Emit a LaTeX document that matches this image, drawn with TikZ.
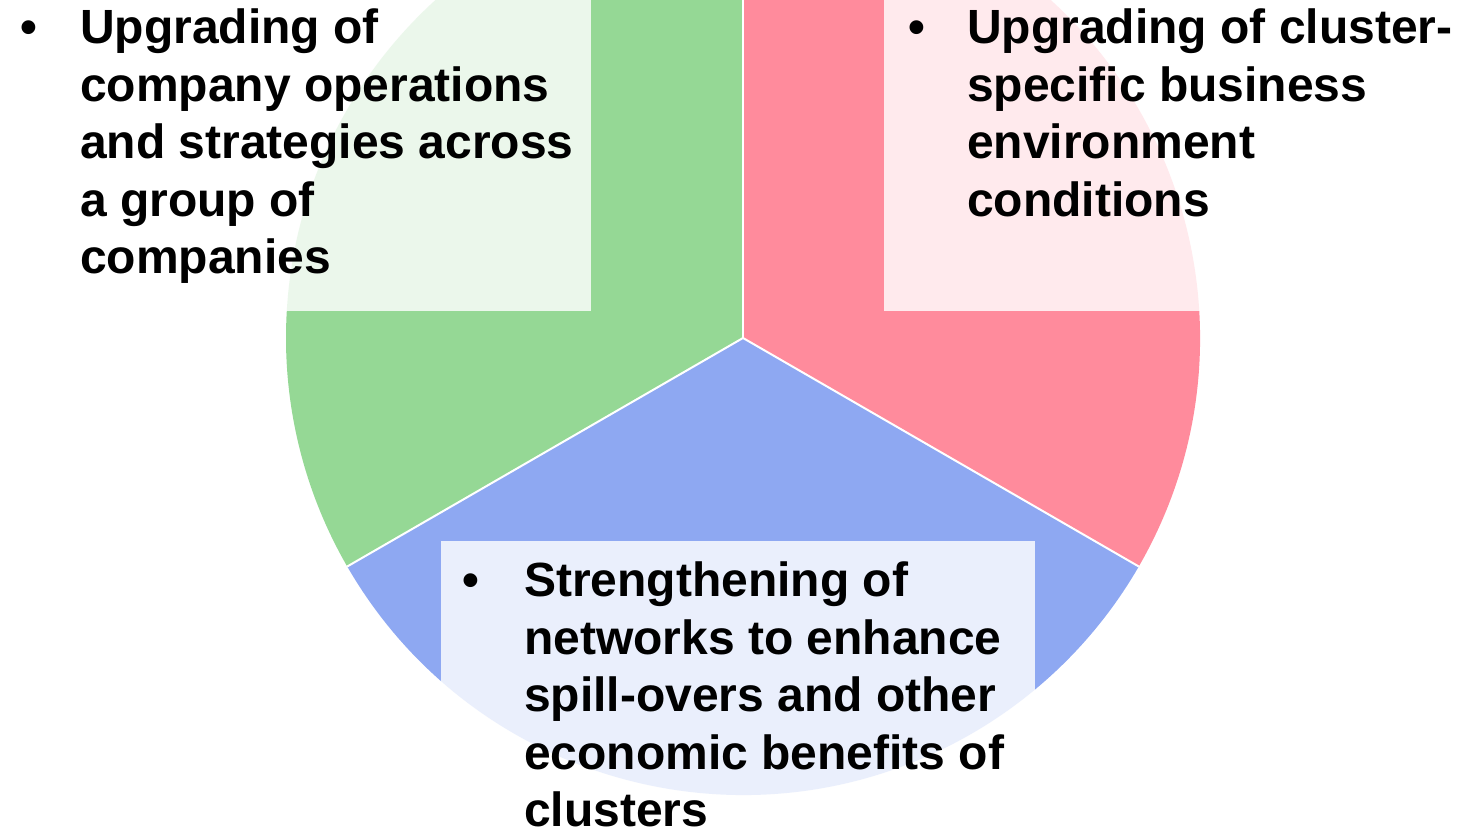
\documentclass[tikz,border=0pt]{standalone}
\usepackage{fontspec}
\setmainfont{Liberation Sans}
\definecolor{pgreen}{RGB}{149,216,149}
\definecolor{ppink}{RGB}{255,139,156}
\definecolor{pblue}{RGB}{142,168,242}
\tikzset{
  sector/.style={draw=none},
  sepline/.style={draw=white, line width=2pt},
  veil/.style={fill=white, fill opacity=0.82, draw=none},
  bul/.style={anchor=base west, inner sep=0pt, font=\fontsize{48}{57.5}\selectfont\bfseries},
  txt/.style={anchor=base west, inner sep=0pt, font=\fontsize{48}{57.5}\selectfont\bfseries}
}
\begin{document}
\begin{tikzpicture}[x=1pt,y=1pt]
\useasboundingbox (0,0) rectangle (1460,830);
\coordinate (c) at (743,492);
% pie sectors
\fill[pgreen, sector] (c) -- ++(90:457) arc[start angle=90, end angle=210, radius=457] -- cycle;
\fill[ppink, sector] (c) -- ++(-30:457) arc[start angle=-30, end angle=90, radius=457] -- cycle;
\fill[pblue, sector] (c) -- ++(210:457) arc[start angle=210, end angle=330, radius=457] -- cycle;
\draw[sepline] (c) -- ++(90:457);
\draw[sepline] (c) -- ++(210:457);
\draw[sepline] (c) -- ++(330:457);
% translucent text panels
\fill[veil] (0,830) rectangle (591,519);
\fill[veil] (884,830) rectangle (1460,519);
\fill[veil] (441,289) rectangle (1035,0);
% texts
\node[bul] (b1) at (20,786) {•};
\node[txt] (t1) at (80,786) {\parbox[t]{600pt}{\raggedright Upgrading of\\company operations\\and strategies across\\a group of\\companies}};
\node[bul] (b2) at (908,786) {•};
\node[txt] (t2) at (967,786) {\parbox[t]{600pt}{\raggedright Upgrading of cluster-\\specific business\\environment\\conditions}};
\node[bul] (b3) at (462,233) {•};
\node[txt] (t3) at (524,233) {\parbox[t]{600pt}{\raggedright Strengthening of\\networks to enhance\\spill-overs and other\\economic benefits of\\clusters}};
\end{tikzpicture}
\end{document}
